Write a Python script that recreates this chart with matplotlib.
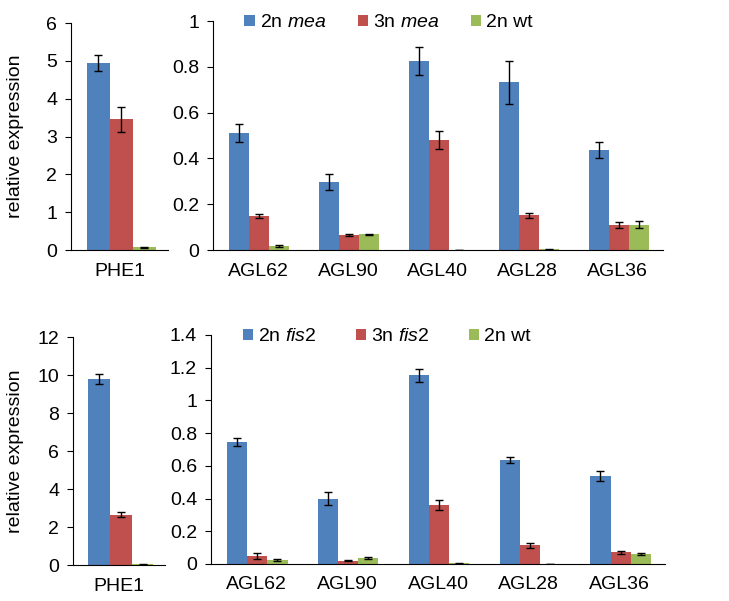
import numpy as np
import matplotlib.pyplot as plt
from matplotlib.ticker import FuncFormatter

plt.rcParams['font.family'] = ['Liberation Sans', 'DejaVu Sans']
plt.rcParams['mathtext.fontset'] = 'custom'
plt.rcParams['mathtext.rm'] = 'Liberation Sans'
plt.rcParams['mathtext.it'] = 'Liberation Sans:italic'

# данные
genes = ['AGL62', 'AGL90', 'AGL40', 'AGL28', 'AGL36']

# верхняя панель (mea)
mea_phe1 = [4.95, 3.46, 0.07]
mea_phe1_err = [0.21, 0.33, 0.01]
mea_2n = [0.511, 0.297, 0.825, 0.732, 0.438]
mea_2n_err = [0.040, 0.033, 0.062, 0.095, 0.035]
mea_3n = [0.148, 0.065, 0.480, 0.151, 0.108]
mea_3n_err = [0.010, 0.005, 0.040, 0.012, 0.013]
mea_wt = [0.017, 0.068, 0.0, 0.003, 0.111]
mea_wt_err = [0.004, 0.004, 0.0, 0.002, 0.017]

# нижняя панель (fis2)
fis_phe1 = [9.81, 2.64, 0.03]
fis_phe1_err = [0.27, 0.13, 0.01]
fis_2n = [0.745, 0.399, 1.154, 0.635, 0.537]
fis_2n_err = [0.023, 0.039, 0.041, 0.020, 0.031]
fis_3n = [0.049, 0.020, 0.362, 0.114, 0.071]
fis_3n_err = [0.016, 0.003, 0.030, 0.016, 0.008]
fis_wt = [0.024, 0.037, 0.003, 0.0, 0.063]
fis_wt_err = [0.004, 0.004, 0.001, 0.0, 0.007]

colors = ['#4F81BD', '#C0504D', '#9BBB59']
fs = 14
ekw = dict(elinewidth=1, capthick=1)


def style(ax, ymax, step):
    ax.spines['top'].set_visible(False)
    ax.spines['right'].set_visible(False)
    ax.set_ylim(0, ymax)
    ax.set_yticks(np.arange(0, ymax + step / 2, step))
    ax.yaxis.set_major_formatter(FuncFormatter(lambda v, p: '%g' % round(v, 2)))
    ax.tick_params(axis='y', direction='out', length=4, labelsize=fs, pad=6)
    ax.tick_params(axis='x', length=0, labelsize=fs, pad=9)


def phe1_panel(ax, vals, errs, ymax, step, lx):
    w = 0.237
    for i in range(3):
        ax.bar((i - 1) * w + 0.02, vals[i], w, color=colors[i],
               yerr=errs[i], capsize=3, error_kw=ekw)
    ax.set_xlim(-0.5, 0.5)
    ax.set_xticks([0])
    ax.set_xticklabels(['PHE1'])
    style(ax, ymax, step)
    ax.set_ylabel('relative expression', fontsize=fs)
    ax.yaxis.set_label_coords(lx, 0.5)


def agl_panel(ax, series, errs, labels, ymax, step, cs):
    x = np.arange(len(genes))
    w = 0.222
    for i in range(3):
        ax.bar(x + (i - 1) * w + 0.01, series[i], w, color=colors[i],
               yerr=errs[i], capsize=3, error_kw=ekw, label=labels[i])
    ax.set_xlim(-0.5, 4.5)
    ax.set_xticks(x)
    ax.set_xticklabels(genes)
    style(ax, ymax, step)
    ax.legend(ncol=3, loc='lower left', bbox_to_anchor=(0.07, 0.955), frameon=False,
              fontsize=fs, handlelength=0.55, handleheight=0.55, handletextpad=0.25,
              columnspacing=cs, borderpad=0, borderaxespad=0)


fig = plt.figure(figsize=(7.29, 6.01), dpi=100)

ax1 = fig.add_axes([0.0974, 0.584, 0.133, 0.3777])
phe1_panel(ax1, mea_phe1, mea_phe1_err, 6, 1, -0.484)

ax2 = fig.add_axes([0.2922, 0.584, 0.617, 0.381])
agl_panel(ax2, [mea_2n, mea_3n, mea_wt], [mea_2n_err, mea_3n_err, mea_wt_err],
          ['2n $\\mathit{mea}$', '3n $\\mathit{mea}$', '2n wt'], 1.0, 0.2, 1.6)

ax3 = fig.add_axes([0.1001, 0.0599, 0.126, 0.379])
phe1_panel(ax3, fis_phe1, fis_phe1_err, 12, 2, -0.532)

ax4 = fig.add_axes([0.2894, 0.0616, 0.623, 0.381])
agl_panel(ax4, [fis_2n, fis_3n, fis_wt], [fis_2n_err, fis_3n_err, fis_wt_err],
          ['2n $\\mathit{fis2}$', '3n $\\mathit{fis2}$', '2n wt'], 1.4, 0.2, 2.0)

plt.savefig('out.png', dpi=100)
